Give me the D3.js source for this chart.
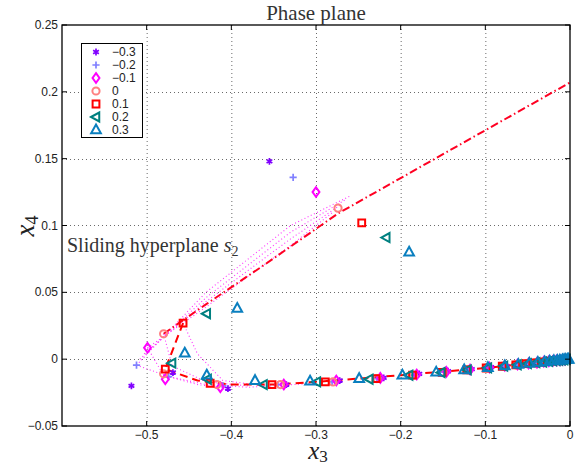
<!DOCTYPE html>
<html>
<head>
<meta charset="utf-8">
<script src="https://cdn.jsdelivr.net/npm/d3@7"></script>
<style>
  body { margin: 0; background: #fff; }
  svg { display: block; }
</style>
</head>
<body>
<svg id="chart" width="581" height="466"></svg>
<script>
// tick values
var xTicks = [-0.5, -0.4, -0.3, -0.2, -0.1, 0];
var yTicks = [-0.05, 0, 0.05, 0.1, 0.15, 0.2, 0.25];

// legend labels
var seriesNames = ["\u22120.3", "\u22120.2", "\u22120.1", "0", "0.1", "0.2", "0.3"];

// sampled states [x3, x4] of each run
var runM03 = [[-0.355,0.148],[-0.518,-0.020],[-0.469,-0.010],[-0.404,-0.022],[-0.335,-0.019],[-0.272,-0.016],[-0.220,-0.014],[-0.178,-0.011],[-0.144,-0.009],[-0.116,-0.0075],[-0.093,-0.006],[-0.075,-0.005],[-0.060,-0.004],[-0.048,-0.003],[-0.038,-0.0025],[-0.030,-0.002],[-0.024,-0.0015],[-0.019,-0.0012],[-0.015,-0.001],[-0.011,-0.0007],[-0.008,-0.0005],[-0.005,-0.0003]];
var runM02 = [[-0.327,0.136],[-0.512,-0.0045],[-0.474,-0.013],[-0.410,-0.020],[-0.345,-0.019],[-0.281,-0.017],[-0.228,-0.0145],[-0.184,-0.012],[-0.149,-0.0097],[-0.120,-0.008],[-0.097,-0.0064],[-0.078,-0.0052],[-0.063,-0.0042],[-0.050,-0.0033],[-0.040,-0.0026],[-0.032,-0.002],[-0.025,-0.0016],[-0.020,-0.0013],[-0.016,-0.001],[-0.012,-0.0008],[-0.009,-0.0006],[-0.006,-0.0004]];
var runM01 = [[-0.300,0.125],[-0.499,0.0085],[-0.478,-0.015],[-0.413,-0.021],[-0.338,-0.019],[-0.276,-0.016],[-0.224,-0.014],[-0.181,-0.0115],[-0.146,-0.0095],[-0.118,-0.0078],[-0.095,-0.0063],[-0.077,-0.005],[-0.062,-0.004],[-0.049,-0.0032],[-0.039,-0.0026],[-0.031,-0.002],[-0.025,-0.0016],[-0.020,-0.0012],[-0.016,-0.001],[-0.012,-0.0008],[-0.009,-0.0006],[-0.006,-0.0004]];
var runZero = [[-0.274,0.113],[-0.480,0.019],[-0.480,-0.011],[-0.417,-0.019],[-0.342,-0.019],[-0.280,-0.017],[-0.228,-0.0145],[-0.185,-0.012],[-0.150,-0.0098],[-0.121,-0.008],[-0.098,-0.0065],[-0.079,-0.0052],[-0.064,-0.0042],[-0.051,-0.0034],[-0.041,-0.0027],[-0.033,-0.0021],[-0.026,-0.0017],[-0.021,-0.0013],[-0.017,-0.0011],[-0.013,-0.0008],[-0.010,-0.0006],[-0.007,-0.0004]];
var runP01 = [[-0.246,0.102],[-0.457,0.027],[-0.478,-0.0075],[-0.425,-0.018],[-0.352,-0.019],[-0.289,-0.017],[-0.229,-0.0145],[-0.186,-0.012],[-0.151,-0.0099],[-0.122,-0.008],[-0.099,-0.0066],[-0.080,-0.0053],[-0.064,-0.0043],[-0.052,-0.0034],[-0.042,-0.0027],[-0.033,-0.0022],[-0.027,-0.0017],[-0.021,-0.0014],[-0.017,-0.0011],[-0.013,-0.0009],[-0.010,-0.0006],[-0.007,-0.0004]];
var runP02 = [[-0.217,0.091],[-0.429,0.034],[-0.470,-0.003],[-0.428,-0.015],[-0.362,-0.019],[-0.299,-0.017],[-0.237,-0.015],[-0.190,-0.012],[-0.152,-0.010],[-0.121,-0.008],[-0.097,-0.0065],[-0.078,-0.0052],[-0.062,-0.0042],[-0.050,-0.0033],[-0.040,-0.0026],[-0.032,-0.0021],[-0.025,-0.0017],[-0.020,-0.0013],[-0.016,-0.001],[-0.013,-0.0008],[-0.010,-0.0006],[-0.007,-0.0004],[-0.004,-0.0002]];
var runP03 = [[-0.190,0.080],[-0.393,0.038],[-0.455,0.0045],[-0.429,-0.012],[-0.372,-0.016],[-0.307,-0.0165],[-0.249,-0.0145],[-0.198,-0.012],[-0.158,-0.0098],[-0.125,-0.008],[-0.097,-0.0063],[-0.077,-0.005],[-0.061,-0.004],[-0.048,-0.0031],[-0.038,-0.0025],[-0.030,-0.002],[-0.024,-0.0015],[-0.019,-0.0012],[-0.015,-0.001],[-0.012,-0.0008],[-0.009,-0.0006],[-0.007,-0.0004],[-0.005,-0.0003],[-0.003,-0.0002],[-0.0015,-0.0001]];

// sliding hyperplane s2 (dash-dot) and the other switching curve (dashed)
var hyperS2 = [[-0.480,0.019],[-0.430,0.041],[-0.360,0.071],[-0.274,0.109],[0,0.207]];
var curveS1 = [[-0.457,0.027],[-0.478,-0.0075],[-0.440,-0.016],[-0.400,-0.019],[-0.350,-0.019],[-0.300,-0.017],[-0.200,-0.012],[-0.100,-0.0066],[0,0]];

// fine dotted trajectories
var dotA = [[-0.512,-0.0045],[-0.430,0.050],[-0.330,0.100],[-0.260,0.122]];
var dotB = [[-0.508,0.000],[-0.430,0.046],[-0.330,0.095],[-0.266,0.119]];
var dotC = [[-0.503,0.004],[-0.430,0.043],[-0.330,0.090],[-0.272,0.115]];
var dotD = [[-0.499,0.0085],[-0.430,0.039],[-0.330,0.085],[-0.280,0.110]];
var dotE = [[-0.512,-0.0045],[-0.474,-0.013],[-0.430,-0.019],[-0.380,-0.021],[-0.300,-0.018]];
var dotF = [[-0.457,0.027],[-0.440,0.004],[-0.410,-0.016],[-0.360,-0.020]];
var dotG = [[-0.499,0.0085],[-0.480,-0.012],[-0.440,-0.019],[-0.400,-0.022]];
var dotH = [[-0.480,0.019],[-0.470,-0.005],[-0.430,-0.017],[-0.380,-0.020]];

var runs = [runM03, runM02, runM01, runZero, runP01, runP02, runP03];
var colors = ["#8000ff", "#8080ff", "#ff00ff", "#ff8080", "#ff0000", "#008080", "#0a7fbf"];
var shapes = ["asterisk", "plus", "diamond", "circle", "square", "triLeft", "triUp"];

var svg = d3.select("#chart");
var plotL = 62, plotR = 570, plotT = 25, plotB = 426;

var x = d3.scaleLinear().domain([-0.6, 0]).range([plotL, plotR]);
var y = d3.scaleLinear().domain([-0.05, 0.25]).range([plotB, plotT]);

function markerPath(type) {
    var p = d3.path();
    if (type == "asterisk") {
        var r = 3.4;
        p.moveTo(0, -r); p.lineTo(0, r);
        p.moveTo(-r*0.85, -r*0.5); p.lineTo(r*0.85, r*0.5);
        p.moveTo(-r*0.85, r*0.5); p.lineTo(r*0.85, -r*0.5);
    } else if (type == "plus") {
        var r = 3.6;
        p.moveTo(0, -r); p.lineTo(0, r);
        p.moveTo(-r, 0); p.lineTo(r, 0);
    } else if (type == "diamond") {
        var r = 4.8;
        p.moveTo(0, -r); p.lineTo(r*0.72, 0); p.lineTo(0, r); p.lineTo(-r*0.72, 0); p.closePath();
    } else if (type == "circle") {
        p.arc(0, 0, 3.6, 0, 2 * Math.PI);
    } else if (type == "square") {
        p.rect(-3.4, -3.4, 6.8, 6.8);
    } else if (type == "triLeft") {
        var r = 5;
        p.moveTo(-r, 0); p.lineTo(r*0.65, -r*0.9); p.lineTo(r*0.65, r*0.9); p.closePath();
    } else {
        var r = 5.4;
        p.moveTo(0, -r); p.lineTo(r*0.9, r*0.62); p.lineTo(-r*0.9, r*0.62); p.closePath();
    }
    return p.toString();
}

// grid
var grid = svg.append("g").attr("stroke", "#444").attr("stroke-width", 0.8).attr("stroke-dasharray", "1,3");
grid.selectAll(".gx").data(xTicks.filter(function (d) { return d != 0; })).enter().append("line")
    .attr("x1", function (d) { return x(d) + 0.5; }).attr("x2", function (d) { return x(d) + 0.5; })
    .attr("y1", plotT).attr("y2", plotB);
grid.selectAll(".gy").data(yTicks.filter(function (d) { return d != -0.05 && d != 0.25; })).enter().append("line")
    .attr("y1", function (d) { return Math.round(y(d)) + 0.5; }).attr("y2", function (d) { return Math.round(y(d)) + 0.5; })
    .attr("x1", plotL).attr("x2", plotR);

var line = d3.line().x(function (d) { return x(d[0]); }).y(function (d) { return y(d[1]); });

// dotted magenta trajectories
svg.selectAll(".dots").data([dotA, dotB, dotC, dotD, dotE, dotF, dotG, dotH]).enter().append("path")
    .attr("d", line).attr("fill", "none").attr("stroke", "#ff33ff").attr("stroke-width", 1.1)
    .attr("stroke-dasharray", "1,2.5");

svg.append("path").attr("d", line(hyperS2)).attr("fill", "none")
    .attr("stroke", "#ff0022").attr("stroke-width", 2).attr("stroke-dasharray", "8,3,1.5,3");
svg.append("path").attr("d", line(curveS1)).attr("fill", "none")
    .attr("stroke", "#ff0000").attr("stroke-width", 2).attr("stroke-dasharray", "8,5");

// markers
runs.forEach(function (run, i) {
    svg.append("g").selectAll("path").data(run).enter().append("path")
        .attr("transform", function (d) { return "translate(" + x(d[0]) + "," + y(d[1]) + ")"; })
        .attr("d", markerPath(shapes[i]))
        .attr("fill", "none")
        .attr("stroke", colors[i])
        .attr("stroke-width", i < 2 ? 1.7 : 2);
});

// axes box and ticks
svg.append("rect").attr("x", plotL).attr("y", plotT).attr("width", plotR - plotL).attr("height", plotB - plotT)
    .attr("fill", "none").attr("stroke", "#000").attr("stroke-width", 1.3);

var ticks = svg.append("g").attr("stroke", "#000").attr("stroke-width", 1);
xTicks.forEach(function (t) {
    ticks.append("line").attr("x1", x(t)).attr("x2", x(t)).attr("y1", plotB).attr("y2", plotB - 5);
    ticks.append("line").attr("x1", x(t)).attr("x2", x(t)).attr("y1", plotT).attr("y2", plotT + 5);
});
yTicks.forEach(function (t) {
    ticks.append("line").attr("y1", y(t)).attr("y2", y(t)).attr("x1", plotL).attr("x2", plotL + 5);
    ticks.append("line").attr("y1", y(t)).attr("y2", y(t)).attr("x1", plotR).attr("x2", plotR - 5);
});

function fmt(v) {
    return (v < 0 ? "\u2212" : "") + String(Math.abs(Math.round(v * 100) / 100));
}

svg.selectAll(".xl").data(xTicks).enter().append("text")
    .attr("x", function (d) { return x(d); }).attr("y", 439)
    .attr("text-anchor", "middle").attr("font-family", "Liberation Sans, Arial, sans-serif")
    .attr("font-size", 12).attr("fill", "#222").text(fmt);
svg.selectAll(".yl").data(yTicks).enter().append("text")
    .attr("x", plotL - 4).attr("y", function (d) { return y(d) + 4; })
    .attr("text-anchor", "end").attr("font-family", "Liberation Sans, Arial, sans-serif")
    .attr("font-size", 12).attr("fill", "#222").text(fmt);

// title and axis labels
svg.append("text").attr("x", (plotL + plotR) / 2).attr("y", 20).attr("text-anchor", "middle")
    .attr("font-family", "Liberation Serif, serif").attr("font-size", 21).attr("fill", "#333")
    .text("Phase plane");

var xl = svg.append("text").attr("x", 318).attr("y", 459).attr("text-anchor", "middle")
    .attr("font-family", "Liberation Serif, serif").attr("font-size", 25).attr("fill", "#222");
xl.append("tspan").attr("font-style", "italic").text("x");
xl.append("tspan").attr("font-size", 17).attr("dy", 3).text("3");

var yl = svg.append("text").attr("transform", "translate(34,226) rotate(-90)").attr("text-anchor", "middle")
    .attr("font-family", "Liberation Serif, serif").attr("font-size", 27).attr("fill", "#222");
yl.append("tspan").attr("font-style", "italic").text("x");
yl.append("tspan").attr("font-size", 18).attr("dy", 4).text("4");

var ann = svg.append("text").attr("x", 67).attr("y", 252)
    .attr("font-family", "Liberation Serif, serif").attr("font-size", 20).attr("fill", "#333");
ann.append("tspan").text("Sliding hyperplane ");
ann.append("tspan").attr("font-style", "italic").text("s");
ann.append("tspan").attr("font-size", 14).attr("dy", 4).text("2");

// legend
var lg = svg.append("g");
lg.append("rect").attr("x", 81.5).attr("y", 43.5).attr("width", 61).attr("height", 94)
    .attr("fill", "#fff").attr("stroke", "#000").attr("stroke-width", 1);
seriesNames.forEach(function (name, i) {
    var yy = 52 + i * 13;
    lg.append("path").attr("transform", "translate(96," + yy + ")").attr("d", markerPath(shapes[i]))
        .attr("fill", "none").attr("stroke", colors[i]).attr("stroke-width", i < 2 ? 1.7 : 2);
    lg.append("text").attr("x", 112).attr("y", yy + 4).attr("font-family", "Liberation Sans, Arial, sans-serif")
        .attr("font-size", 12).attr("fill", "#222").text(name);
});
</script>
</body>
</html>
